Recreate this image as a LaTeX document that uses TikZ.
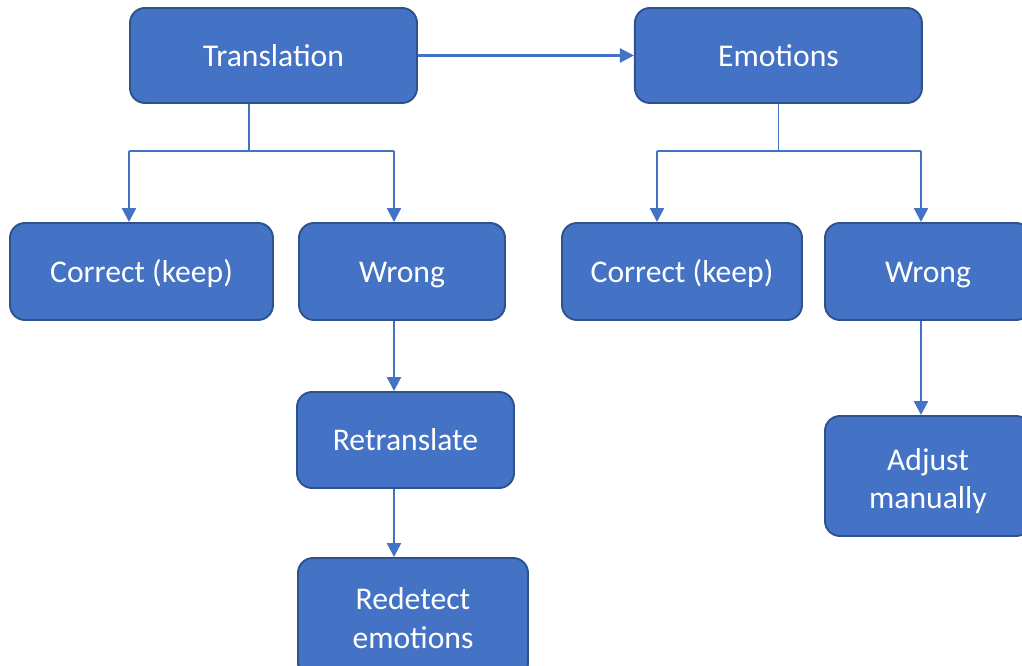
\documentclass[tikz,border=0pt]{standalone}
\usepackage{fontspec}
\setmainfont{Carlito}
\usetikzlibrary{positioning,arrows.meta}

\definecolor{boxfill}{HTML}{4472C4}
\definecolor{boxborder}{HTML}{2F528F}
\definecolor{linkcolor}{HTML}{4472C4}

\tikzset{
  box/.style={rectangle, rounded corners=0.3cm, draw=boxborder, fill=boxfill, line width=1.1pt, text=white, align=center, font=\fontsize{18}{22}\selectfont, execute at begin node=\rule{0pt}{19pt}, execute at end node=\rule[-6.6pt]{0pt}{0pt}},
  stem/.style={draw=linkcolor, line width=0.8pt},
  link/.style={draw=linkcolor, line width=1.3pt, -{Triangle[length=0.28cm,width=0.28cm]}}
}

\begin{document}
\begin{tikzpicture}
\useasboundingbox (0,0) rectangle (20.44,-13.32);
\clip (0,0) rectangle (20.44,-13.32);

\node[box, minimum width=5.74cm, minimum height=1.90cm](translation) at (5.47,-1.11){Translation};
\node[box, minimum width=5.74cm, minimum height=1.90cm](emotions)[right=4.32cm of translation]{Emotions};

\node[box, minimum width=5.26cm, minimum height=1.94cm](transCorrect) at (2.83,-5.43){Correct (keep)};
\node[box, minimum width=4.12cm, minimum height=1.94cm](transWrong) at (8.04,-5.43){Wrong};
\node[box, minimum width=4.80cm, minimum height=1.94cm](emoCorrect) at (13.64,-5.43){Correct (keep)};
\node[box, minimum width=4.12cm, minimum height=1.94cm](emoWrong) at (18.56,-5.43){Wrong};

\node[box, minimum width=4.34cm, minimum height=1.92cm](retranslate) at (8.11,-8.80){Retranslate};
\node[box, minimum width=4.60cm, minimum height=2.40cm](redetect) at (8.26,-12.36){\rule{0pt}{19pt}Redetect\\emotions};
\node[box, minimum width=4.12cm, minimum height=2.40cm](adjust) at (18.56,-9.52){\rule{0pt}{22pt}Adjust\\manually};

% fork points under the top boxes
\coordinate (transForkL) at (2.58,-3.02);
\coordinate (transForkR) at (7.88,-3.02);
\coordinate (emoForkL) at (13.14,-3.02);
\coordinate (emoForkR) at (18.42,-3.02);

\draw[link] (translation) -- (emotions);

\draw[stem] ([xshift=-0.49cm]translation.south) -- ([xshift=-0.49cm]translation.south |- transForkL);
\draw[stem] (transForkL) -- (transForkR);
\draw[link] (transForkL) -- (transForkL |- transCorrect.north);
\draw[link] (transForkR) -- (transForkR |- transWrong.north);

\draw[stem] (emotions.south) -- (emotions.south |- emoForkL);
\draw[stem] (emoForkL) -- (emoForkR);
\draw[link] (emoForkL) -- (emoForkL |- emoCorrect.north);
\draw[link] (emoForkR) -- (emoForkR |- emoWrong.north);

\draw[link] (transForkR |- transWrong.south) -- (transForkR |- retranslate.north);
\draw[link] (transForkR |- retranslate.south) -- (transForkR |- redetect.north);
\draw[link] (emoForkR |- emoWrong.south) -- (emoForkR |- adjust.north);

\end{tikzpicture}
\end{document}
